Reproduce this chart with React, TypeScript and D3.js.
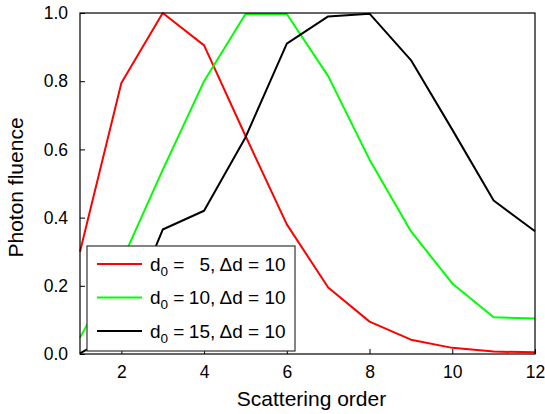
import * as d3 from "d3";
import { useRef, useEffect } from "react";

// scattering order on x
const orders = [1, 2, 3, 4, 5, 6, 7, 8, 9, 10, 11, 12];
// photon fluence per series
const fluenceD5 = [0.3, 0.795, 1.0, 0.905, 0.64, 0.38, 0.195, 0.095, 0.042, 0.018, 0.007, 0.005];
const fluenceD10 = [0.048, 0.27, 0.54, 0.8, 0.997, 0.997, 0.815, 0.57, 0.36, 0.207, 0.108, 0.104];
const fluenceD15 = [0.002, 0.07, 0.365, 0.42, 0.635, 0.91, 0.99, 0.998, 0.862, 0.658, 0.45, 0.36];

const seriesD0 = ["5", "10", "15"];
const seriesColors = ["#ff0000", "#00ff00", "#000000"];
const xTicks = [2, 4, 6, 8, 10, 12];
const yTicks = [0, 0.2, 0.4, 0.6, 0.8, 1.0];

const FONT = "'Liberation Sans', Arial, sans-serif";

const App = () => {
  const svgRef = useRef(null);
  const svgWidth = 545;
  const svgHeight = 414;
  const margin = { left: 80, top: 13, right: 10, bottom: 60 };
  const width = svgWidth - margin.left - margin.right;
  const height = 354 - margin.top;

  useEffect(() => {
    const xScale = d3.scaleLinear().domain([1, 12]).range([0, width]);
    const yScale = d3.scaleLinear().domain([0, 1]).range([height, 0]);

    const svgEl = d3.select(svgRef.current);
    svgEl.selectAll("*").remove();

    const svg = svgEl
      .append("g")
      .attr("transform", `translate(${margin.left},${margin.top})`);

    // x axis, ticks pointing inward
    const xAxisGroup = svg
      .append("g")
      .attr("transform", `translate(0, ${height})`)
      .call(d3.axisBottom(xScale).tickValues(xTicks).tickSizeInner(-5).tickSizeOuter(0).tickPadding(12));
    xAxisGroup.select(".domain").remove();
    xAxisGroup.selectAll("line").attr("stroke", "#000");
    xAxisGroup
      .selectAll("text")
      .attr("fill", "#000")
      .attr("font-family", FONT)
      .attr("font-size", 17.5);

    // y axis
    const yAxisGroup = svg
      .append("g")
      .call(
        d3
          .axisLeft(yScale)
          .tickValues(yTicks)
          .tickSizeInner(-5)
          .tickSizeOuter(0)
          .tickPadding(12)
          .tickFormat(d3.format(".1f"))
      );
    yAxisGroup.select(".domain").remove();
    yAxisGroup.selectAll("line").attr("stroke", "#000");
    yAxisGroup
      .selectAll("text")
      .attr("fill", "#000")
      .attr("font-family", FONT)
      .attr("font-size", 17.5);

    const series = [fluenceD5, fluenceD10, fluenceD15];
    const line = d3
      .line<number>()
      .x((d, i) => xScale(orders[i]))
      .y((d) => yScale(d));

    series.forEach((values, k) => {
      svg
        .append("path")
        .datum(values)
        .attr("fill", "none")
        .attr("stroke", seriesColors[k])
        .attr("stroke-width", 2)
        .attr("stroke-linejoin", "round")
        .attr("d", line);
    });

    // frame
    svg
      .append("rect")
      .attr("width", width)
      .attr("height", height)
      .attr("fill", "none")
      .attr("stroke", "#000")
      .attr("stroke-width", 1.2);

    // legend
    const legend = svg.append("g").attr("transform", `translate(${87 - margin.left},${246 - margin.top})`);
    legend
      .append("rect")
      .attr("width", 208)
      .attr("height", 105)
      .attr("fill", "#fff")
      .attr("stroke", "#333")
      .attr("stroke-width", 1.2);

    seriesD0.forEach((d0, k) => {
      const rowY = 18 + k * 33.5;
      legend
        .append("line")
        .attr("x1", 10)
        .attr("x2", 55)
        .attr("y1", rowY)
        .attr("y2", rowY)
        .attr("stroke", seriesColors[k])
        .attr("stroke-width", 2);
      const label = legend
        .append("text")
        .attr("x", 63)
        .attr("y", rowY + 6.5)
        .attr("font-family", FONT)
        .attr("font-size", 19)
        .attr("fill", "#000");
      label.append("tspan").text("d");
      label.append("tspan").attr("dy", 5).attr("font-size", 13.5).text("0");
      label.append("tspan").attr("dy", -5).text(" =");
      legend
        .append("text")
        .attr("x", 123)
        .attr("y", rowY + 6.5)
        .attr("text-anchor", "end")
        .attr("font-family", FONT)
        .attr("font-size", 19)
        .attr("fill", "#000")
        .text(d0);
      legend
        .append("text")
        .attr("x", 123)
        .attr("y", rowY + 6.5)
        .attr("font-family", FONT)
        .attr("font-size", 19)
        .attr("fill", "#000")
        .text(", \u0394d = 10");
    });

    // axis titles
    svg
      .append("text")
      .attr("x", width / 2 + 4)
      .attr("y", height + 52)
      .attr("text-anchor", "middle")
      .attr("font-family", FONT)
      .attr("font-size", 21)
      .attr("fill", "#000")
      .text("Scattering order");

    svg
      .append("text")
      .attr("transform", `translate(${-57},${height / 2 + 4}) rotate(-90)`)
      .attr("text-anchor", "middle")
      .attr("font-family", FONT)
      .attr("font-size", 21)
      .attr("fill", "#000")
      .text("Photon fluence");
  }, []);

  return (
    <svg
      ref={svgRef}
      width={svgWidth}
      height={svgHeight}
      style={{ position: "absolute", left: 0, top: 0, background: "#fff" }}
    />
  );
};

export default App;
